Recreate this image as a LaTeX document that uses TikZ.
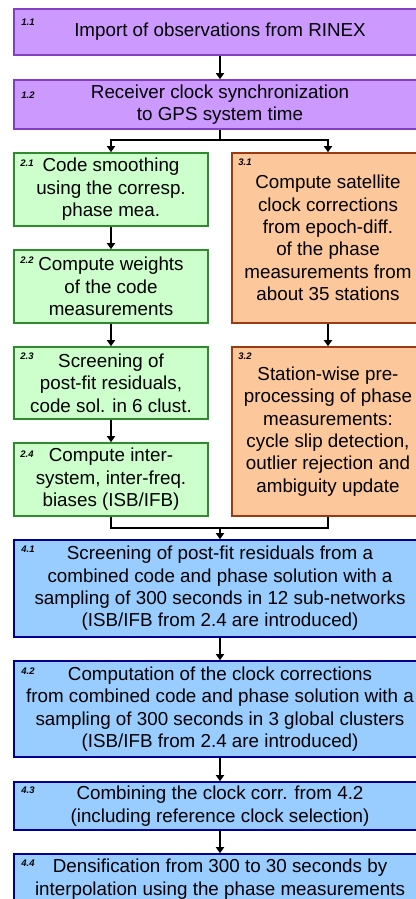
\documentclass[tikz,border=0pt]{standalone}
\usepackage{fontspec}
\setmainfont{Liberation Sans}
\usetikzlibrary{arrows.meta}
\definecolor{pfill}{HTML}{CC99FF}
\definecolor{pdraw}{HTML}{8040C0}
\definecolor{gfill}{HTML}{CCFFCC}
\definecolor{gdraw}{HTML}{2E8B2E}
\definecolor{ofill}{HTML}{FCC79A}
\definecolor{odraw}{HTML}{9C3A12}
\definecolor{bfill}{HTML}{99CCFF}
\definecolor{bdraw}{HTML}{000090}
\tikzset{
  box/.style={draw, line width=1.6pt, inner sep=0pt, align=center,
    font=\fontsize{18.8}{22.4}\selectfont},
  pbox/.style={box, fill=pfill, draw=pdraw},
  gbox/.style={box, fill=gfill, draw=gdraw},
  obox/.style={box, fill=ofill, draw=odraw},
  bbox/.style={box, fill=bfill, draw=bdraw},
  lab/.style={anchor=west, inner sep=0pt, font=\fontsize{9.5}{10}\selectfont\bfseries\itshape},
  conn/.style={line width=1.6pt},
  arr/.style={conn, -{Triangle[width=8pt,length=6pt]}}
}
\begin{document}
\begin{tikzpicture}[x=1pt,y=-1pt]
\useasboundingbox (0,0) rectangle (415,899);
% boxes
\node[pbox, minimum width=412pt, minimum height=46pt] (b11) at (220,32) {Import of observations from RINEX};
\node[pbox, minimum width=412pt, minimum height=49pt] (b12) at (220,104.5) {Receiver clock synchronization\\to GPS system time};
\node[gbox, minimum width=194pt, minimum height=73pt] (b21) at (111,189.5) {Code smoothing\\using the corresp.\\phase mea.};
\node[gbox, minimum width=194pt, minimum height=73pt] (b22) at (111,286.5) {Compute weights\\of the code\\measurements};
\node[gbox, minimum width=194pt, minimum height=72pt] (b23) at (111,383) {Screening of\\post-fit residuals,\\code sol. in 6 clust.};
\node[gbox, minimum width=194pt, minimum height=73pt] (b24) at (111,479.5) {Compute inter-\\system, inter-freq.\\biases (ISB/IFB)};
\node[obox, minimum width=192pt, minimum height=170pt] (b31) at (328,238) {Compute satellite\\clock corrections\\from epoch-diff.\\of the phase\\measurements from\\about 35 stations};
\node[obox, minimum width=192pt, minimum height=169pt] (b32) at (328,431.5) {Station-wise pre-\\processing of phase\\measurements:\\cycle slip detection,\\outlier rejection and\\ambiguity update};
\node[bbox, minimum width=412pt, minimum height=97pt] (b41) at (220,588.5) {Screening of post-fit residuals from a\\combined code and phase solution with a\\sampling of 300 seconds in 12 sub-networks\\(ISB/IFB from 2.4 are introduced)};
\node[bbox, minimum width=412pt, minimum height=96pt] (b42) at (220,709) {Computation of the clock corrections\\from combined code and phase solution with a\\sampling of 300 seconds in 3 global clusters\\(ISB/IFB from 2.4 are introduced)};
\node[bbox, minimum width=412pt, minimum height=48pt] (b43) at (220,806) {Combining the clock corr. from 4.2\\(including reference clock selection)};
\node[bbox, minimum width=412pt, minimum height=50pt] (b44) at (220,879) {Densification from 300 to 30 seconds by\\interpolation using the phase measurements};
% labels
\node[lab] (l11) at ([shift={(8,14.5)}]b11.north west) {1.1};
\node[lab] (l12) at ([shift={(8,16)}]b12.north west) {1.2};
\node[lab] (l21) at ([shift={(7,10.5)}]b21.north west) {2.1};
\node[lab] (l22) at ([shift={(7,10.5)}]b22.north west) {2.2};
\node[lab] (l23) at ([shift={(7,10)}]b23.north west) {2.3};
\node[lab] (l24) at ([shift={(7,11.5)}]b24.north west) {2.4};
\node[lab] (l31) at ([shift={(7,10.5)}]b31.north west) {3.1};
\node[lab] (l32) at ([shift={(7,10.5)}]b32.north west) {3.2};
\node[lab] (l41) at ([shift={(8,10.5)}]b41.north west) {4.1};
\node[lab] (l42) at ([shift={(8,10.5)}]b42.north west) {4.2};
\node[lab] (l43) at ([shift={(8,9.5)}]b43.north west) {4.3};
\node[lab] (l44) at ([shift={(8,10.5)}]b44.north west) {4.4};
% connectors
\coordinate (j1) at (220,140);
\coordinate (j2) at (220,528);
\draw[arr] (b11.south) -- (b12.north);
\draw[conn] (b12.south) -- (j1);
\draw[arr] (j1) -| (b21.north);
\draw[arr] (j1) -| (b31.north);
\draw[arr] (b21.south) -- (b22.north);
\draw[arr] (b22.south) -- (b23.north);
\draw[arr] (b23.south) -- (b24.north);
\draw[arr] (b31.south) -- (b32.north);
\draw[conn] (b24.south) |- (j2);
\draw[conn] (b32.south) |- (j2);
\draw[arr] (j2) -- (b41.north);
\draw[arr] (b41.south) -- (b42.north);
\draw[arr] (b42.south) -- (b43.north);
\draw[arr] (b43.south) -- (b44.north);
\end{tikzpicture}
\end{document}
